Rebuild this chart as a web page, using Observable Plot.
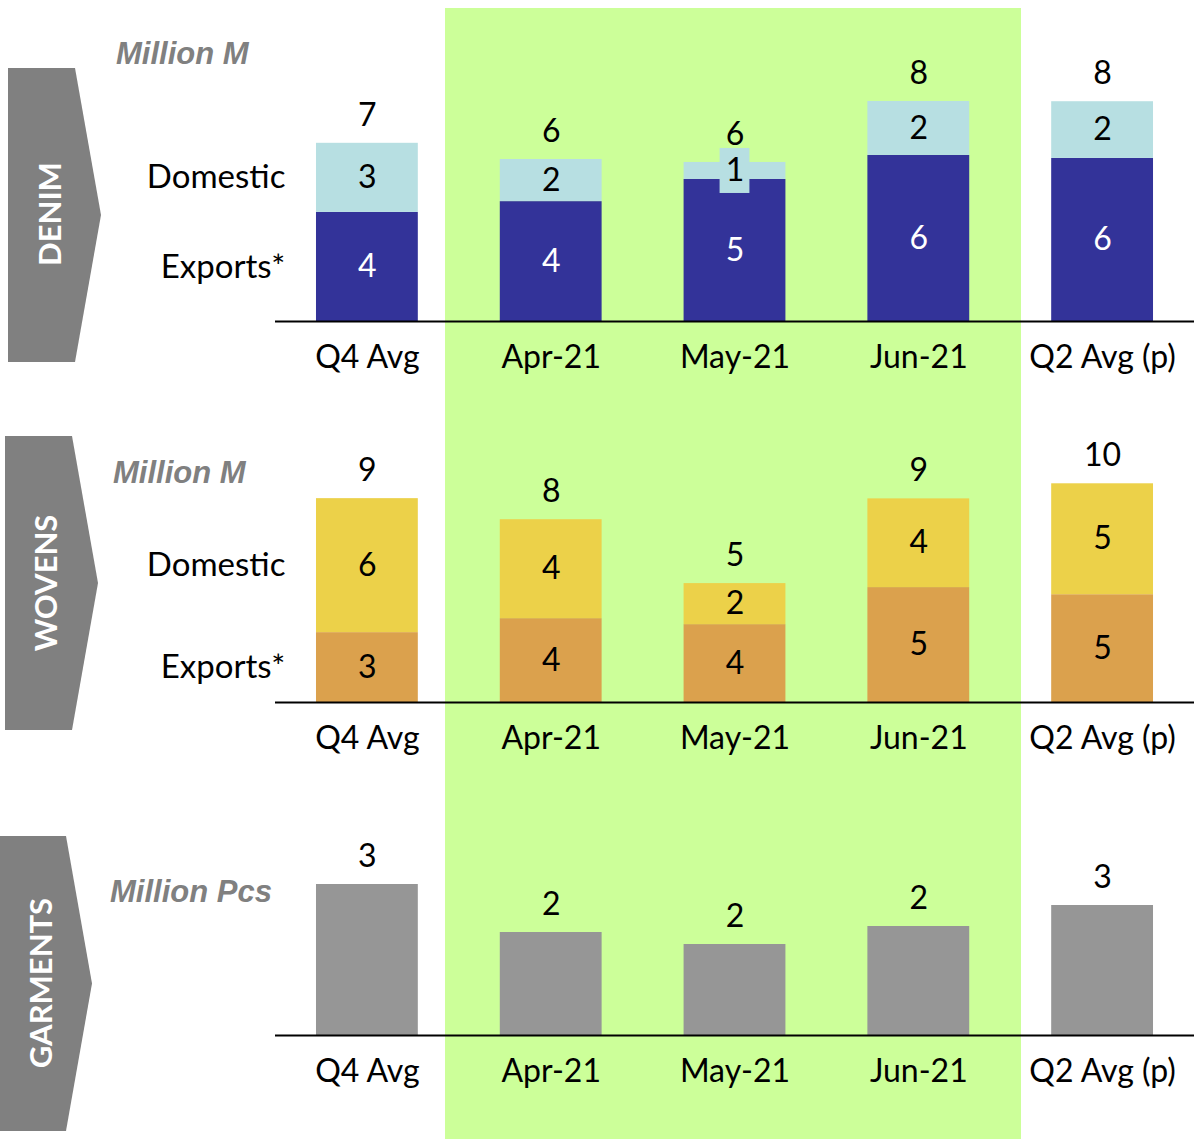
<!DOCTYPE html>
<html><head><meta charset="utf-8">
<script src="https://cdn.jsdelivr.net/npm/d3@7"></script>
<script src="https://cdn.jsdelivr.net/npm/@observablehq/plot@0.6"></script>
<style>
body{margin:0;background:#fff;}
#wrap{position:relative;width:1198px;height:1139px;overflow:hidden;background:#fff;}
#band{position:absolute;background:#ccff99;}
.panel{position:absolute;left:0;}
.chev{position:absolute;background:#808080;}
.chev span{position:absolute;transform:translate(-50%,-50%) rotate(-90deg);color:#fff;font-family:Lato,sans-serif;font-weight:bold;font-size:31px;white-space:nowrap;line-height:1;}
.unit{position:absolute;font-family:"Liberation Sans",Arial,sans-serif;font-style:italic;font-weight:bold;color:#808080;font-size:31px;line-height:1;white-space:nowrap;}
</style></head>
<body>
<div id="wrap"><div id="band"></div></div>
<script>
const months = ["Q4 Avg", "Apr-21", "May-21", "Jun-21", "Q2 Avg (p)"];
const denimExports = [4.04, 4.44, 5.26, 6.15, 6.04];
const denimDomestic = [2.56, 1.56, 0.63, 2.0, 2.1];
const wovensExports = [3.15, 3.78, 3.51, 5.18, 4.86];
const wovensDomestic = [6.04, 4.46, 1.85, 4.0, 5.0];
const garments = [3.02, 2.06, 1.82, 2.18, 2.6];
const seriesNames = ["Exports*", "Domestic"];
const sectionNames = ["DENIM", "WOVENS", "GARMENTS"];
const unitNames = ["Million M", "Million M", "Million Pcs"];

const FONT = "Lato, sans-serif";
const FS = 32;
const wrap = document.getElementById("wrap");

function makePanel(cfg) {
  // stacked rows (exports at bottom, domestic on top)
  const rows = [];
  months.forEach((m, i) => {
    let base = 0;
    cfg.series.forEach((s, k) => {
      const v = s.values[i];
      rows.push({month: m, type: s.name, value: v, k, y1: base, y2: base + v, mid: base + v / 2});
      base += v;
    });
  });
  const totals = months.map((m, i) => ({month: m, total: d3.sum(cfg.series, s => s.values[i])}));
  const colorOf = d => cfg.series[d.k].color;
  const textOf = d => cfg.series[d.k].text;
  const marks = [
    Plot.barY(rows, {x: "month", y1: "y1", y2: "y2", fill: colorOf}),
    Plot.text(totals, {
      x: "month", y: "total", text: d => String(Math.round(d.total)),
      dy: -28, fill: "#000", fontSize: FS, fontFamily: FONT
    }),
    Plot.ruleY([0], {stroke: "#000", strokeWidth: 2})
  ];
  if (cfg.series.length > 1) {
    marks.push(
      Plot.barY(rows.filter(d => d.value < 1), {
        x: "month", y1: "y1", y2: "y2", fill: colorOf,
        insetLeft: 36, insetRight: 36, insetTop: -14, insetBottom: -14
      }),
      Plot.text(rows, {
        x: "month", y: "mid", text: d => String(Math.round(d.value)),
        fill: textOf, fontSize: FS, fontFamily: FONT
      }),
      Plot.text(rows.filter(d => d.month === months[0]), {
        x: "month", y: "mid", text: "type", textAnchor: "end", dx: -82,
        fill: "#000", fontSize: FS + 1, fontFamily: FONT
      })
    );
  }
  const chart = Plot.plot({
    width: 1198,
    height: cfg.height,
    marginLeft: 275,
    marginRight: 4,
    marginTop: cfg.marginTop,
    marginBottom: cfg.marginBottom,
    style: {background: "transparent", fontSize: FS + "px", fontFamily: FONT, color: "#000", overflow: "visible"},
    x: {domain: months, paddingInner: 0.446, paddingOuter: 0.223, round: false, tickSize: 0, tickPadding: 24, label: null},
    y: {domain: [0, cfg.yMax], axis: null},
    marks
  });
  chart.classList.add("panel");
  chart.style.position = "absolute";
  chart.style.top = cfg.top + "px";
  chart.style.left = "0px";
  wrap.appendChild(chart);
  return chart;
}

const c1 = makePanel({
  top: 0, height: 380, marginTop: 51, marginBottom: 59, yMax: 10,
  series: [
    {name: seriesNames[0], values: denimExports, color: "#333399", text: "#fff"},
    {name: seriesNames[1], values: denimDomestic, color: "#b7dfe2", text: "#000"}
  ]
});
makePanel({
  top: 390, height: 372, marginTop: 68, marginBottom: 60, yMax: 11,
  series: [
    {name: seriesNames[0], values: wovensExports, color: "#dba14d", text: "#000"},
    {name: seriesNames[1], values: wovensDomestic, color: "#ecd149", text: "#000"}
  ]
});
makePanel({
  top: 770, height: 369, marginTop: 90, marginBottom: 104, yMax: 3.5,
  series: [
    {name: "Garments", values: garments, color: "#969696", text: "#000"}
  ]
});

// highlighted months band, positioned from the x scale
const sx = c1.scale("x");
const fx = sx.apply ? (v => sx.apply(v)) :
  (v => d3.scaleBand(sx.domain, sx.range).paddingInner(sx.paddingInner).paddingOuter(sx.paddingOuter)(v));
const bw = sx.bandwidth;
const band = document.getElementById("band");
const bl = fx(months[1]) - 0.54 * bw, br = fx(months[3]) + 1.51 * bw;
band.style.left = bl + "px";
band.style.width = (br - bl) + "px";
band.style.top = "8px";
band.style.height = "1131px";

// section chevrons
const chevs = [
  {left: 8, top: 68, w: 93, h: 294, rect: 67, cx: 41, cy: 146},
  {left: 5, top: 436, w: 93, h: 294, rect: 67, cx: 40, cy: 147},
  {left: 0, top: 836, w: 92, h: 295, rect: 66, cx: 40, cy: 147}
];
chevs.forEach((c, i) => {
  const d = document.createElement("div");
  d.className = "chev";
  Object.assign(d.style, {left: c.left + "px", top: c.top + "px", width: c.w + "px", height: c.h + "px",
    clipPath: `polygon(0 0, ${c.rect}px 0, ${c.w}px ${c.h / 2}px, ${c.rect}px ${c.h}px, 0 ${c.h}px)`});
  const s = document.createElement("span");
  s.textContent = sectionNames[i];
  s.style.left = c.cx + "px";
  s.style.top = c.cy + "px";
  d.appendChild(s);
  wrap.appendChild(d);
});

// unit labels
const units = [{left: 116, top: 38}, {left: 113, top: 457}, {left: 110, top: 876}];
units.forEach((u, i) => {
  const d = document.createElement("div");
  d.className = "unit";
  d.textContent = unitNames[i];
  d.style.left = u.left + "px";
  d.style.top = u.top + "px";
  wrap.appendChild(d);
});
</script>
</body></html>
